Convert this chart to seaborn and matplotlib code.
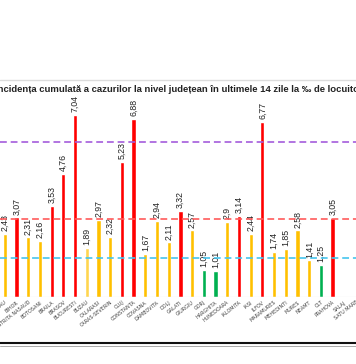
import matplotlib
matplotlib.use('Agg')
import matplotlib.pyplot as plt
import seaborn as sns
import pandas as pd
from matplotlib.lines import Line2D

# counties visible in the crop (SALAJ / SATU MARE only show their labels)
counties = ['BACAU', 'BIHOR', 'BISTRITA NASAUD', 'BOTOSANI', 'BRAILA', 'BRASOV',
            'BUCURESTI', 'BUZAU', 'CALARASI', 'CARAS-SEVERIN', 'CLUJ', 'CONSTANTA',
            'COVASNA', 'DAMBOVITA', 'DOLJ', 'GALATI', 'GIURGIU', 'GORJ', 'HARGHITA',
            'HUNEDOARA', 'IALOMITA', 'IASI', 'ILFOV', 'MARAMURES', 'MEHEDINTI',
            'MURES', 'NEAMT', 'OLT', 'PRAHOVA', 'SALAJ', 'SATU MARE']
incidence = [2.43, 3.07, 2.31, 2.16, 3.53, 4.76,
             7.04, 1.89, 2.97, 2.32, 5.23, 6.88,
             1.67, 2.94, 2.11, 3.32, 2.57, 1.05, 1.01,
             2.90, 3.14, 2.44, 6.77, 1.74, 1.85,
             2.58, 1.41, 1.25, 3.05, None, None]
level = ['y', 'r', 'y', 'y', 'r', 'r',
         'r', 'l', 'y', 'y', 'r', 'r',
         'y', 'y', 'y', 'r', 'y', 'g', 'g',
         'y', 'r', 'y', 'r', 'y', 'y',
         'y', 'y', 'g', 'r', 'y', 'y']
thresholds = [6, 3, 1.5]

level_colors = {'r': '#FF0000', 'y': '#FFC000', 'l': '#FFD54F', 'g': '#00B050'}
line_colors = ['#A45BDB', '#FF5A5A', '#45C4EE']

df = pd.DataFrame({'judet': counties, 'val': incidence})
palette = {c: level_colors[l] for c, l in zip(counties, level)}

sns.set_style('white')
fig = plt.figure(figsize=(3.56, 3.64), dpi=100)
ax = fig.add_axes([0, (364 - 297) / 364, 1, 217 / 364])

sns.barplot(data=df, x='judet', y='val', hue='judet', order=counties,
            palette=palette, width=0.36, legend=False, ax=ax, saturation=1)

for t, c in zip(thresholds, line_colors):
    ax.axhline(t, color=c, lw=1.4, dashes=(3.5, 2), alpha=0.85, zorder=5)
ax.axhline(0, color='#D9D9D9', lw=0.8, zorder=1)

for i, v in enumerate(incidence):
    if v is None:
        continue
    lab = f'{v:g}'.replace('.', ',')
    ax.text(i, v + 0.1, lab, rotation=90, ha='center', va='bottom',
            fontsize=6.3, color='#222222',
            family=['Liberation Sans Narrow', 'Liberation Sans', 'DejaVu Sans'])

ax.set_xlim(-5 / 12.14, (356 - 5) / 12.14)
ax.set_ylim(0, 217 / 25.9)
ax.set_xlabel('')
ax.set_ylabel('')
ax.set_yticks([])
ax.set_xticks(range(len(counties)))
ax.set_xticklabels(counties, rotation=38, ha='right', rotation_mode='anchor',
                   fontsize=3.5, color='#404040')
ax.tick_params(axis='x', length=0, pad=2)
for s in ax.spines.values():
    s.set_visible(False)

fig.text(0.507, 1 - 90 / 364,
         'Incidența cumulată a cazurilor la nivel județean în ultimele 14 zile la ‰ de locuitori',
         ha='center', va='center', fontsize=6.8, fontweight='bold', color='#222222',
         family=['Liberation Sans', 'DejaVu Sans'])

fig.add_artist(Line2D([0, 1], [1 - 80 / 364] * 2, color='#DCDCDC', lw=1))
fig.add_artist(Line2D([0, 1], [1 - 343 / 364] * 2, color='#111111', lw=1.5))
fig.add_artist(Line2D([0, 1], [1 - 345.5 / 364] * 2, color='#AAAAAA', lw=0.7))

fig.savefig('out.png', dpi=100)
